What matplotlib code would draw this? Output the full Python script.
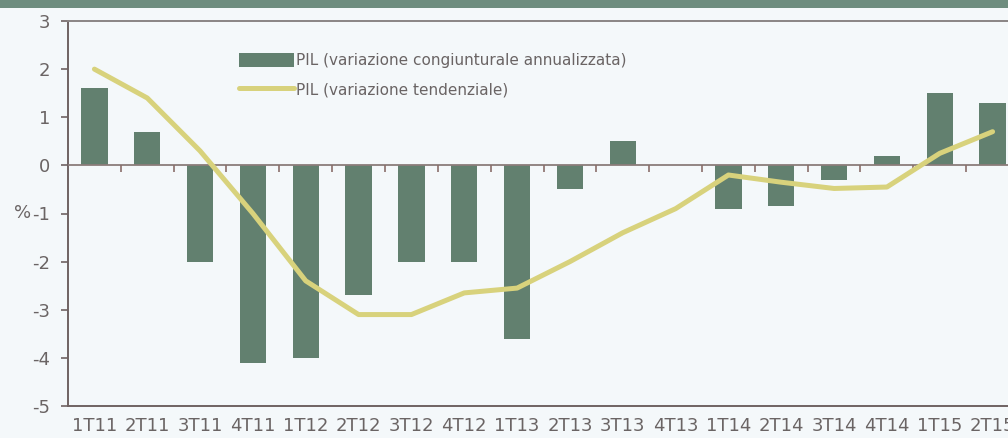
import numpy as np
import matplotlib.pyplot as plt
from matplotlib.patches import Rectangle

plt.rcParams['axes.unicode_minus'] = False

quarters = ['1T11', '2T11', '3T11', '4T11', '1T12', '2T12', '3T12', '4T12', '1T13',
            '2T13', '3T13', '4T13', '1T14', '2T14', '3T14', '4T14', '1T15', '2T15']
pil_cong = [1.6, 0.7, -2.0, -4.1, -4.0, -2.7, -2.0, -2.0, -3.6,
            -0.5, 0.5, 0.0, -0.9, -0.85, -0.3, 0.2, 1.5, 1.3]
pil_tend = [2.0, 1.4, 0.3, -1.0, -2.4, -3.1, -3.1, -2.65, -2.55,
            -2.0, -1.4, -0.9, -0.2, -0.35, -0.48, -0.45, 0.25, 0.7]
yticks = [3, 2, 1, 0, -1, -2, -3, -4, -5]

bg = '#f4f8fa'
bar_col = '#62806f'
line_col = '#d8d27c'
txt_col = '#6a6464'
spine_col = '#6f6262'

fig = plt.figure(figsize=(10.08, 4.38), dpi=100, facecolor=bg)
# dark band across the top of the panel
fig.patches.append(Rectangle((0, 1 - 8 / 438), 1, 8 / 438, transform=fig.transFigure,
                             facecolor='#6e8d7f', edgecolor='none'))

ax = fig.add_axes([68 / 1008, (438 - 406) / 438, (1019 - 68) / 1008, 385 / 438])
ax.set_facecolor(bg)

x = np.arange(len(quarters))
bars = ax.bar(x, pil_cong, 0.5, color=bar_col, zorder=2)
line, = ax.plot(x, pil_tend, color=line_col, lw=3.6, zorder=4, solid_capstyle='round')

ax.axhline(0, color='#8a7c7a', lw=1.3, zorder=3)
ax.vlines(x[:-1] + 0.5, -0.14, 0, color='#8a6f6a', lw=1.2, zorder=3)

ax.set_xlim(-0.5, len(quarters) - 0.5)
ax.set_ylim(-5, 3)
ax.set_yticks(yticks)
ax.set_yticklabels([str(v) for v in yticks])
ax.set_xticks(x)
ax.set_xticklabels(quarters)
ax.tick_params(axis='x', length=0, pad=8, labelsize=13, labelcolor=txt_col)
ax.tick_params(axis='y', length=5, width=1.2, color=spine_col, pad=8, labelsize=13, labelcolor=txt_col)

ax.set_ylabel('%', rotation=0, fontsize=13, color=txt_col, va='center', ha='center')
ax.yaxis.set_label_coords(-0.048, 0.5)

for s in ['left', 'bottom', 'top']:
    ax.spines[s].set_color(spine_col)
    ax.spines[s].set_linewidth(1.4)
ax.spines['top'].set_color('#8a8484')
ax.spines['right'].set_visible(False)

leg = ax.legend([bars, line],
                ['PIL (variazione congiunturale annualizzata)', 'PIL (variazione tendenziale)'],
                loc='upper left', bbox_to_anchor=(0.18, 0.918), frameon=False, fontsize=11,
                handlelength=3.6, handleheight=1.1, handletextpad=0.15, labelspacing=0.9,
                borderpad=0, borderaxespad=0)
for t in leg.get_texts():
    t.set_color(txt_col)

fig.savefig('out.png', dpi=100, facecolor=bg)
